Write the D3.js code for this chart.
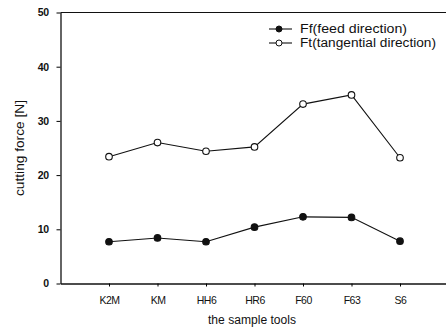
<!DOCTYPE html>
<html><head><meta charset="utf-8">
<script src="https://cdn.jsdelivr.net/npm/d3@7"></script>
<style>body{margin:0;background:#fff}svg text{font-family:Arial,"Liberation Sans",sans-serif;fill:#111}</style>
</head><body><svg id="c" width="446" height="329"></svg>
<script>
const categories = ["K2M","KM","HH6","HR6","F60","F63","S6"];
const ffValues = [7.7, 8.4, 7.7, 10.4, 12.3, 12.2, 7.8];
const ftValues = [23.4, 26.0, 24.4, 25.2, 33.1, 34.8, 23.2];
const yTicks = [0,10,20,30,40,50];
const seriesNames = ["Ff(feed direction)","Ft(tangential direction)"];

const svg = d3.select("#c");
const x = d3.scaleLinear().domain([0,8]).range([60.5,448.5]);
const y = d3.scaleLinear().domain([0,50]).range([283.5,12.5]);

svg.append("line").attr("x1",60.5).attr("x2",446).attr("y1",12.5).attr("y2",12.5).attr("stroke","#111").attr("stroke-width",1.2);

const ya = svg.append("g").attr("transform","translate(60.5,0)")
  .call(d3.axisLeft(y).tickValues(yTicks).tickSize(4).tickSizeOuter(0));
ya.select(".domain").attr("stroke","#111").attr("stroke-width",1.3);
ya.selectAll("text").attr("font-size",10.5).attr("x",-12).attr("font-weight","bold").attr("letter-spacing","-0.5");

const xa = svg.append("g").attr("transform","translate(0,283.5)")
  .call(d3.axisBottom(x).tickValues(d3.range(1,8)).tickFormat(i=>categories[i-1]).tickSize(3).tickSizeOuter(0));
xa.select(".domain").attr("stroke","#111").attr("stroke-width",1.3);
xa.selectAll("text").attr("font-size",10.5).attr("dy","1.35em").attr("letter-spacing","-0.5");

svg.append("text").attr("transform","translate(24,148) rotate(-90)").attr("text-anchor","middle").attr("font-size",12)
  .attr("textLength",96).attr("lengthAdjust","spacingAndGlyphs").text("cutting force [N]");
svg.append("text").attr("x",252).attr("y",324).attr("text-anchor","middle").attr("font-size",12)
  .attr("textLength",88).attr("lengthAdjust","spacingAndGlyphs").text("the sample tools");

const line = d3.line().x((d,i)=>x(i+1)).y(d=>y(d));
[[ffValues,"#111"],[ftValues,"#fff"]].forEach(([vals,fill])=>{
  svg.append("path").datum(vals).attr("d",line).attr("fill","none").attr("stroke","#111").attr("stroke-width",1.1);
  svg.selectAll(null).data(vals).enter().append("circle")
    .attr("cx",(d,i)=>x(i+1)).attr("cy",d=>y(d)).attr("r",3.3)
    .attr("fill",fill).attr("stroke","#111").attr("stroke-width",1.1);
});

const lg = svg.append("g");
const lens = [107, 136];
seriesNames.forEach((n,i)=>{
  const yy = 29 + i*14;
  lg.append("line").attr("x1",269).attr("x2",292).attr("y1",yy).attr("y2",yy).attr("stroke","#111").attr("stroke-width",1.1);
  lg.append("circle").attr("cx",279).attr("cy",yy).attr("r",3).attr("fill",i===0?"#111":"#fff").attr("stroke","#111");
  lg.append("text").attr("x",300).attr("y",yy+4).attr("font-size",12)
    .attr("textLength",lens[i]).attr("lengthAdjust","spacingAndGlyphs").text(n);
});
</script></body></html>
